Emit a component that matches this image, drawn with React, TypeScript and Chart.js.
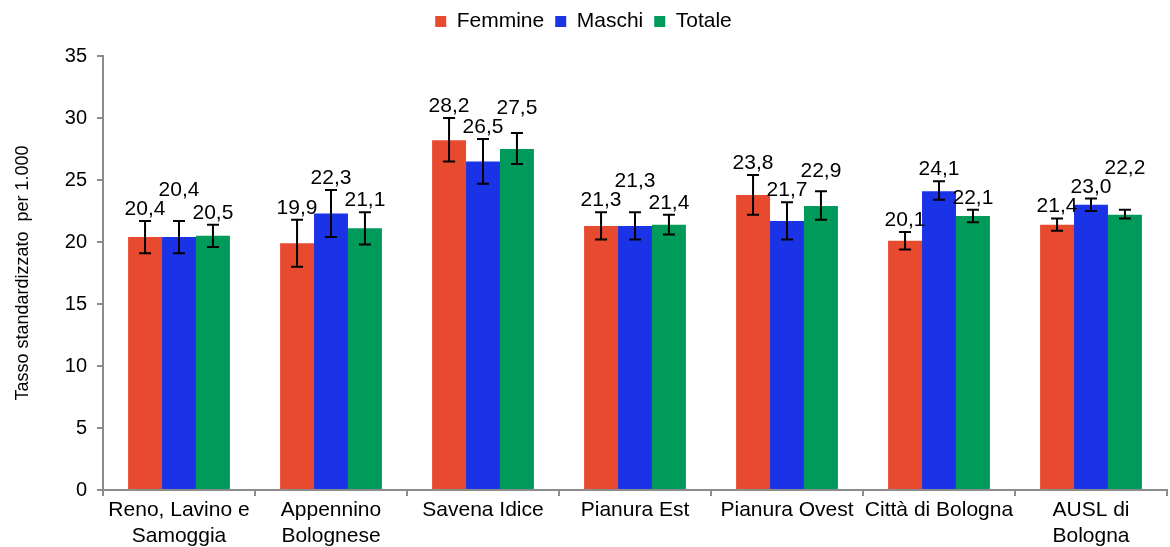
import React, { useEffect, useRef } from 'react';
import { Chart, registerables } from 'chart.js';

Chart.register(...registerables);

const categories: (string | string[])[] = [
  ['Reno, Lavino e', 'Samoggia'],
  ['Appennino', 'Bolognese'],
  'Savena Idice',
  'Pianura Est',
  'Pianura Ovest',
  'Città di Bologna',
  ['AUSL di', 'Bologna'],
];

const femmine = [20.4, 19.9, 28.2, 21.3, 23.8, 20.1, 21.4];
const femmineLow = [19.1, 18.0, 26.5, 20.2, 22.2, 19.4, 20.9];
const femmineHigh = [21.7, 21.8, 30.0, 22.4, 25.4, 20.8, 21.9];

const maschi = [20.4, 22.3, 26.5, 21.3, 21.7, 24.1, 23.0];
const maschiLow = [19.1, 20.4, 24.7, 20.2, 20.2, 23.4, 22.5];
const maschiHigh = [21.7, 24.2, 28.3, 22.4, 23.2, 24.9, 23.5];

const totale = [20.5, 21.1, 27.5, 21.4, 22.9, 22.1, 22.2];
const totaleLow = [19.6, 19.8, 26.3, 20.6, 21.8, 21.6, 21.9];
const totaleHigh = [21.4, 22.4, 28.8, 22.2, 24.1, 22.6, 22.6];

const seriesNames = ['Femmine', 'Maschi', 'Totale'];
const seriesColors = ['#E84A30', '#1B33E6', '#009A5A'];

const yMin = 0;
const yMax = 35;
const yStep = 5;
const yTitle = 'Tasso standardizzato  per 1.000';

const FONT = '"Liberation Sans", Arial, sans-serif';

const fmt = (v: number) => v.toFixed(1).replace('.', ',');

const lows = [femmineLow, maschiLow, totaleLow];
const highs = [femmineHigh, maschiHigh, totaleHigh];

const errorBarPlugin = {
  id: 'errorBars',
  afterDatasetsDraw(chart: any) {
    const ctx = chart.ctx;
    const yScale = chart.scales.y;
    ctx.save();
    ctx.strokeStyle = '#000';
    ctx.lineWidth = 2;
    chart.data.datasets.forEach((ds: any, di: number) => {
      const meta = chart.getDatasetMeta(di);
      meta.data.forEach((el: any, i: number) => {
        const x = el.x;
        const yl = yScale.getPixelForValue(lows[di][i]);
        const yh = yScale.getPixelForValue(highs[di][i]);
        const cap = 6;
        ctx.beginPath();
        ctx.moveTo(x, yl);
        ctx.lineTo(x, yh);
        ctx.moveTo(x - cap, yl);
        ctx.lineTo(x + cap, yl);
        ctx.moveTo(x - cap, yh);
        ctx.lineTo(x + cap, yh);
        ctx.stroke();
      });
    });
    ctx.restore();
  },
};

const labelPlugin = {
  id: 'valueLabels',
  afterDatasetsDraw(chart: any) {
    const ctx = chart.ctx;
    const yScale = chart.scales.y;
    ctx.save();
    ctx.font = `21px ${FONT}`;
    ctx.fillStyle = '#000';
    ctx.textAlign = 'center';
    ctx.textBaseline = 'alphabetic';
    const n = chart.data.labels.length;
    const h = 17;
    for (let i = 0; i < n; i++) {
      const placed: { l: number; r: number; t: number; b: number }[] = [];
      chart.data.datasets.forEach((ds: any, di: number) => {
        const el = chart.getDatasetMeta(di).data[i];
        const text = fmt(ds.data[i]);
        const w = ctx.measureText(text).width;
        const x = el.x;
        let base = yScale.getPixelForValue(highs[di][i]) - 6;
        let moved = true;
        while (moved) {
          moved = false;
          for (const p of placed) {
            const l = x - w / 2;
            const r = x + w / 2;
            const t = base - h;
            const b = base;
            if (l < p.r && r > p.l && t < p.b && b > p.t) {
              base = p.t - 2;
              moved = true;
            }
          }
        }
        placed.push({ l: x - w / 2, r: x + w / 2, t: base - h, b: base });
        ctx.fillText(text, x, base);
      });
    }
    ctx.restore();
  },
};

const legendSpacer = {
  id: 'legendSpacer',
  beforeInit(chart: any) {
    const legend = chart.legend;
    if (!legend) return;
    const orig = legend.fit;
    legend.fit = function () {
      orig.call(this);
      this.height += 14;
    };
  },
};

export default function App() {
  const ref = useRef<HTMLCanvasElement | null>(null);

  useEffect(() => {
    document.body.style.margin = '0';
    const canvas = ref.current;
    if (!canvas) return;
    const data = [femmine, maschi, totale];
    const chart = new Chart(canvas, {
      type: 'bar',
      data: {
        labels: categories,
        datasets: data.map((d, i) => ({
          label: seriesNames[i],
          data: d,
          backgroundColor: seriesColors[i],
          borderWidth: 0,
          barPercentage: 1,
          categoryPercentage: 0.67,
        })),
      },
      options: {
        responsive: false,
        animation: false,
        layout: { padding: { left: 0, right: 3, top: 0, bottom: 0 } },
        plugins: {
          legend: {
            position: 'top',
            labels: {
              font: { family: FONT, size: 21 },
              color: '#000',
              boxWidth: 11,
              boxHeight: 11,
              padding: 11,
            },
          },
          tooltip: { enabled: false },
        },
        scales: {
          x: {
            grid: {
              drawOnChartArea: false,
              drawTicks: true,
              tickLength: 6,
              color: '#8c8c8c',
              lineWidth: 2,
              offset: true,
            },
            border: { color: '#8c8c8c', width: 2 },
            ticks: {
              font: { family: FONT, size: 21, lineHeight: 1.25 },
              color: '#000',
              padding: 1,
              maxRotation: 0,
              autoSkip: false,
            },
            afterFit(scale: any) {
              scale.height = 57;
            },
          },
          y: {
            min: yMin,
            max: yMax,
            grid: {
              drawOnChartArea: false,
              drawTicks: true,
              tickLength: 6,
              color: '#8c8c8c',
              lineWidth: 2,
            },
            border: { color: '#8c8c8c', width: 2 },
            ticks: {
              stepSize: yStep,
              font: { family: FONT, size: 20 },
              color: '#000',
              padding: 10,
            },
            title: {
              display: true,
              text: yTitle,
              font: { family: FONT, size: 18 },
              color: '#000',
              padding: { top: 12, bottom: 6 },
            },
            afterFit(scale: any) {
              scale.width = 103;
            },
          },
        },
      },
      plugins: [errorBarPlugin, labelPlugin, legendSpacer],
    } as any);
    return () => chart.destroy();
  }, []);

  return (
    <div style={{ width: 1170, height: 547 }}>
      <canvas ref={ref} width={1170} height={547} />
    </div>
  );
}
